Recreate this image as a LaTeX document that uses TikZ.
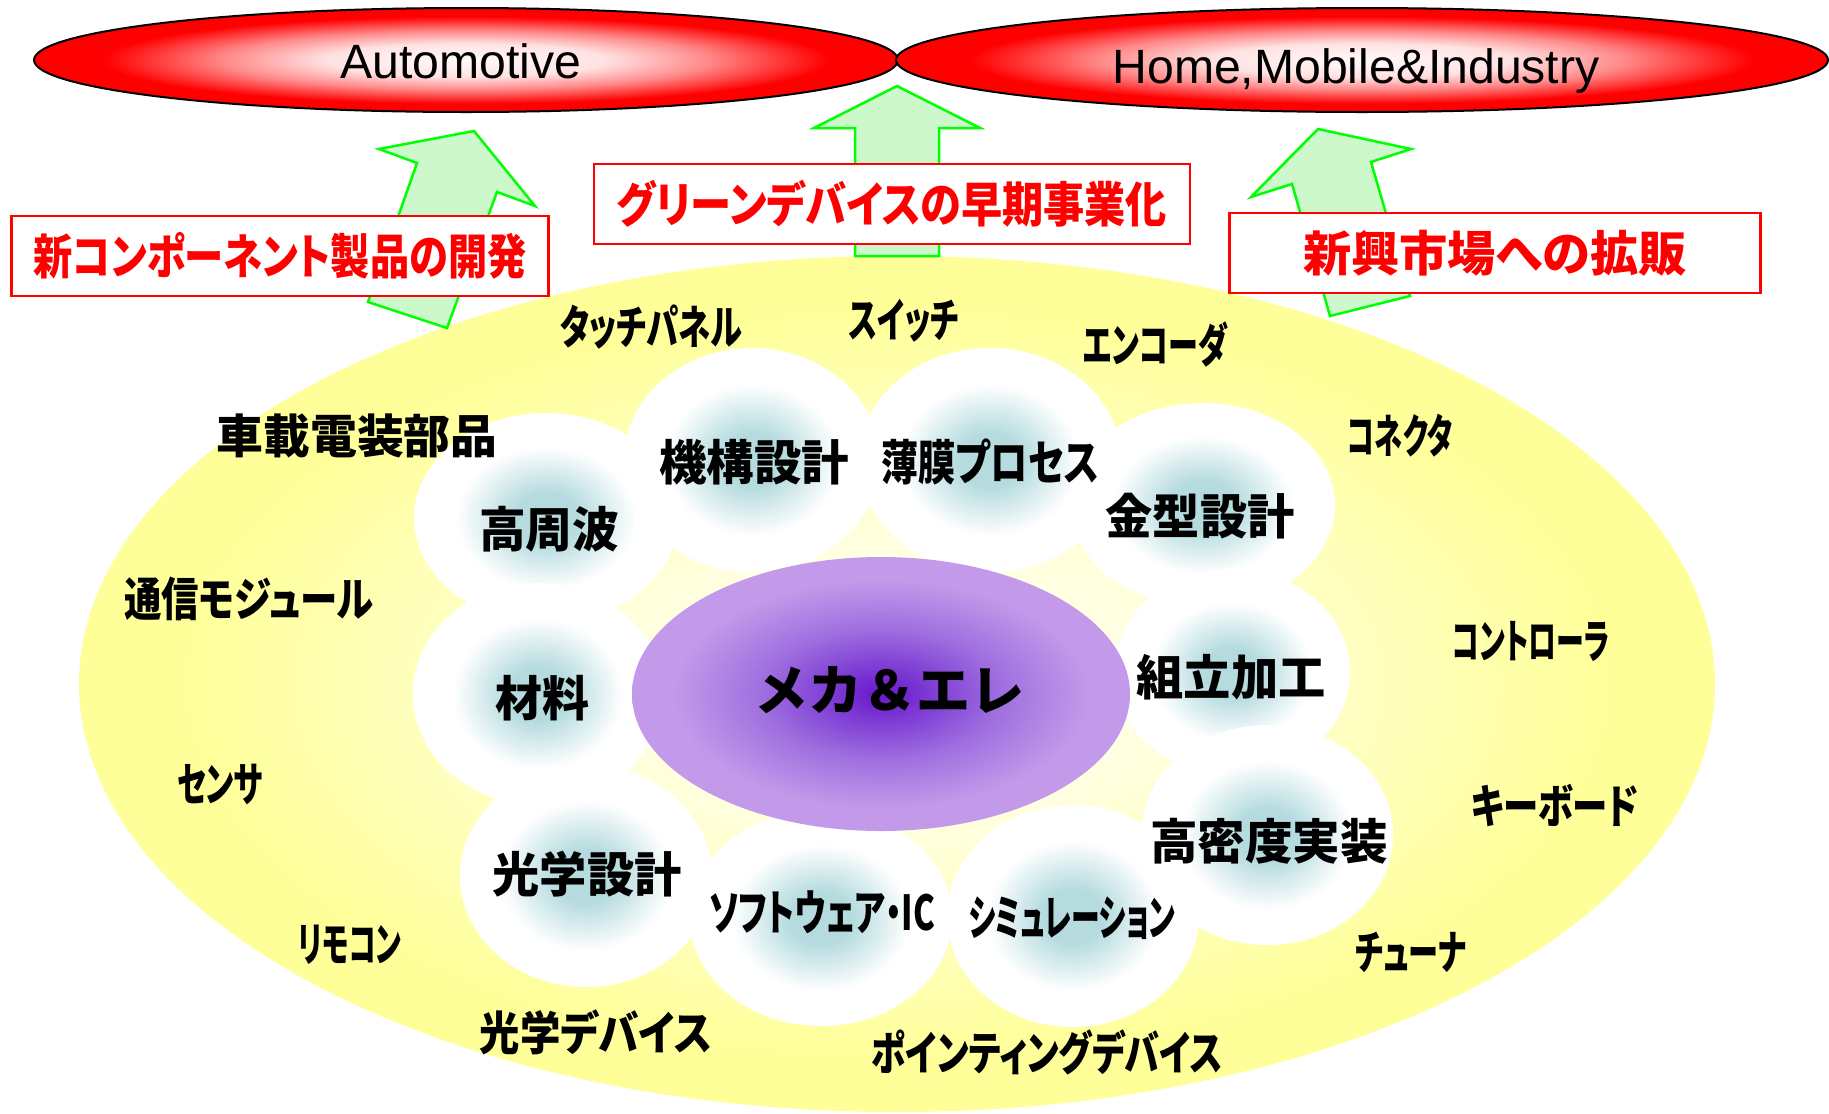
\documentclass[tikz,border=0pt]{standalone}
\usepackage{fontspec}
\usepackage{graphicx}
\usepackage{tikz}
\setmainfont{Liberation Sans}
\newfontfamily\jp{Noto Sans CJK JP}[RawFeature=+palt]
\newfontfamily\jpmid{Noto Sans CJK JP}
\definecolor{arrowline}{HTML}{00FF00}
\definecolor{arrowfill}{HTML}{CCF8CC}
\definecolor{goalred}{HTML}{FF0000}
\definecolor{marketcore}{HTML}{FFFAFA}
\definecolor{marketpale}{HTML}{FFE2E2}
\definecolor{marketmid}{HTML}{FF8A8A}
\definecolor{marketedge}{HTML}{FF0000}
\definecolor{fieldcore}{HTML}{FFFFF6}
\definecolor{fieldmid}{HTML}{FFFFE0}
\definecolor{fieldedge}{HTML}{FFFF99}
\definecolor{bubcore}{HTML}{B5DBDF}
\definecolor{corecore}{HTML}{6617CC}
\definecolor{coremid}{HTML}{9F6FDF}
\definecolor{coreedge}{HTML}{C39AEA}
\pgfdeclareradialshading{marketglow}{\pgfpointorigin}{color(0bp)=(marketcore); color(8bp)=(marketpale); color(14bp)=(marketmid); color(21bp)=(marketedge); color(25bp)=(marketedge); color(50bp)=(marketedge)}
\pgfdeclareradialshading{fieldglow}{\pgfpointorigin}{color(0bp)=(fieldcore); color(8bp)=(fieldmid); color(22bp)=(fieldedge); color(25bp)=(fieldedge); color(50bp)=(fieldedge)}
\pgfdeclareradialshading{bubbleglow}{\pgfpointorigin}{color(0bp)=(bubcore); color(6bp)=(bubcore); color(17bp)=(white); color(25bp)=(white); color(50bp)=(white)}
\pgfdeclareradialshading{coreglow}{\pgfpointorigin}{color(0bp)=(corecore); color(12bp)=(coremid); color(21bp)=(coreedge); color(25bp)=(coreedge); color(50bp)=(coreedge)}
\newcommand\fitx[2]{\resizebox{#1mm}{\height}{#2}}
\tikzset{
  market/.style={shading=marketglow, draw=black, line width=0.2mm},
  markettxt/.style={text=black, font=\fontsize{13.7}{16}\selectfont},
  uparrow/.style={draw=arrowline, fill=arrowfill, line width=0.25mm, line join=miter},
  goal/.style={draw=goalred, fill=white, line width=0.22mm, minimum height=8mm, inner sep=0pt,
    text=goalred, font=\jp\bfseries\fontsize{13.7}{16}\selectfont},
  bubble/.style={shading=bubbleglow},
  skill/.style={text=black, font=\jp\bfseries\fontsize{13.7}{16}\selectfont},
  item/.style={text=black, font=\jp\bfseries\fontsize{13.2}{15}\selectfont},
  core/.style={shading=coreglow},
  coretxt/.style={text=black, font=\jpmid\bfseries\fontsize{15.4}{18}\selectfont},
}
\begin{document}
\begin{tikzpicture}[x=0.1mm, y=-0.1mm]
  \useasboundingbox (0,0) rectangle (1829,1113);
  % field of products
  \path[shading=fieldglow] (897,684) ellipse [x radius=818, y radius=428];
  % markets
  \path[market] (466,60) ellipse [x radius=432, y radius=52];
  \path[market] (1362,60) ellipse [x radius=466, y radius=52];
  \node[markettxt, anchor=base] (auto) at (461,78) {Automotive};
  \node[markettxt, anchor=base] (home) at (1356,83) {Home,Mobile\&Industry};
  % arrows up to the markets
  \draw[uparrow] (474,131) -- (535,206) -- (497,192) -- (447,328) -- (368,302) -- (417,163) -- (379,149) -- cycle;
  \draw[uparrow] (897,86) -- (980,128) -- (939,128) -- (939,256) -- (855,256) -- (855,128) -- (814,128) -- cycle;
  \draw[uparrow] (1318,129) -- (1411,149) -- (1371,162) -- (1410,296) -- (1330,316) -- (1292,184) -- (1251,197) -- cycle;
  % goals
  \node[goal, minimum width=53.7mm] (newcomp) at (280,256) {\fitx{49.3}{新コンポーネント製品の開発}};
  \node[goal, minimum width=59.6mm] (green) at (892,204) {\fitx{55.0}{グリーンデバイスの早期事業化}};
  \node[goal, minimum width=53.1mm] (emerge) at (1495,253) {\fitx{38.4}{新興市場への拡販}};
  % technology bubbles
  \foreach \x/\y/\rx/\ry in {546/518/132/105, 752/460/128/112, 990/460/131/112,
      1203/505/132/102, 1232/672/118/103, 538/694/125/111, 586/876/126/111,
      821/918/131/108, 1073/916/126/111, 1267/835/126/110}
    \path[bubble] (\x,\y) ellipse [x radius=\rx, y radius=\ry];
  \path[core] (881,694) ellipse [x radius=249, y radius=137];
  \foreach \txt/\x/\y/\w [count=\i] in {高周波/549/529/14.0, 機構設計/754/462/19.0,
      薄膜プロセス/990/462/21.8, 金型設計/1200/516/18.9, 組立加工/1231/677/18.9,
      高密度実装/1269/841/23.8, シミュレーション/1072/918/20.7,
      ソフトウェア・IC/822/912/22.6, 光学設計/587/874/18.9, 材料/542/698/9.4}
    \node[skill] (skill\i) at (\x,\y) {\fitx{\w}{\txt}};
  \node[coretxt] (mecha) at (889,690) {\fitx{27.0}{メカ＆エレ}};
  % products
  \foreach \txt/\x/\y/\w [count=\i] in {タッチパネル/651/327/18.2, スイッチ/904/321/11.0,
      エンコーダ/1155/344/14.4, 車載電装部品/357/436/28.1, コネクタ/1400/436/10.5,
      通信モジュール/249/599/24.9, コントローラ/1531/641/15.7, センサ/220/784/8.6,
      キーボード/1555/805/16.7, リモコン/350/945/10.3, チューナ/1411/952/11.1,
      光学デバイス/596/1032/23.2, ポインティングデバイス/1047/1052/35.1}
    \node[item] (item\i) at (\x,\y) {\fitx{\w}{\txt}};
\end{tikzpicture}
\end{document}
